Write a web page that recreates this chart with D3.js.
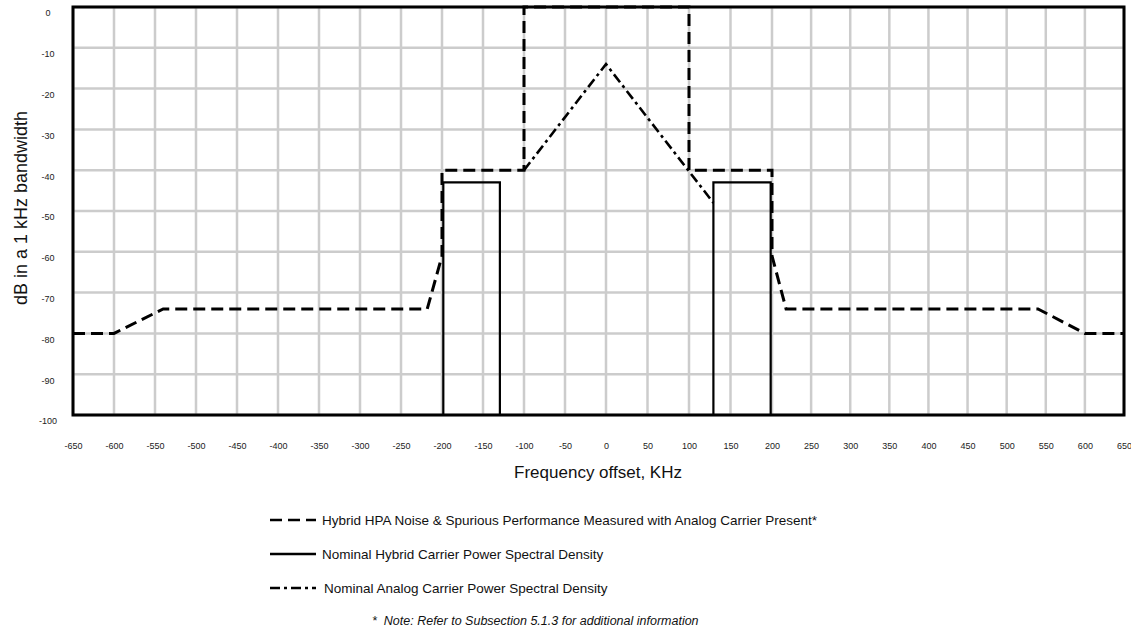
<!DOCTYPE html>
<html>
<head>
<meta charset="utf-8">
<script src="https://cdn.jsdelivr.net/npm/d3@7"></script>
<style>
  html, body { margin: 0; padding: 0; background: #fff; }
  svg { display: block; font-family: "Liberation Sans", Arial, sans-serif; }
</style>
</head>
<body>
<svg id="chart" width="1131" height="634"></svg>
<script>
// ---- Data ----
const xTicks = [-650,-600,-550,-500,-450,-400,-350,-300,-250,-200,-150,-100,-50,0,50,100,150,200,250,300,350,400,450,500,550,600,650];
const yTicks = [0,-10,-20,-30,-40,-50,-60,-70,-80,-90,-100];

// Hybrid HPA noise & spurious mask (dashed)
const maskFreq = [-650,-600,-540,-218,-200,-200,-100,-100,100,100,200,200,218,540,600,650];
const maskDb   = [-80,-80,-74,-74,-61,-40,-40,0,0,-40,-40,-61,-74,-74,-80,-80];

// Nominal hybrid carrier PSD (solid) - lower and upper sidebands
const lowerSbFreq = [-198.4,-198.4,-129.4,-129.4];
const lowerSbDb   = [-100,-43,-43,-100];
const upperSbFreq = [129.4,129.4,198.4,198.4];
const upperSbDb   = [-100,-43,-43,-100];

// Nominal analog carrier PSD (dash-dot)
const analogFreq = [-100,0,129.4];
const analogDb   = [-40,-14,-48];

const legendLabels = [
  "Hybrid HPA Noise & Spurious Performance Measured with Analog Carrier Present*",
  "Nominal Hybrid Carrier Power Spectral Density",
  "Nominal Analog Carrier Power Spectral Density"
];
const noteText = "*  Note: Refer to Subsection 5.1.3 for additional information";

// ---- Layout ----
const svg = d3.select("#chart");
const x = d3.scaleLinear().domain([-650, 0, 200, 650]).range([73, 606, 772, 1124]);
const y = d3.scaleLinear().domain([-100, 0]).range([415, 7]);

const zip = (a, b) => a.map((v, i) => [v, b[i]]);
const line = d3.line().x(d => x(d[0])).y(d => y(d[1]));
const fmt = d => String(d);

// gridlines
const grid = svg.append("g");
grid.selectAll(".vg").data(xTicks).join("line")
  .attr("x1", d => x(d)).attr("x2", d => x(d))
  .attr("y1", y(0)).attr("y2", y(-100))
  .attr("stroke", "#cccccc").attr("stroke-width", 2.5);
grid.selectAll(".hg").data(yTicks).join("line")
  .attr("x1", x(-650)).attr("x2", x(650))
  .attr("y1", d => y(d)).attr("y2", d => y(d))
  .attr("stroke", "#cccccc").attr("stroke-width", 2.5);

// axes (labels only)
const xAxis = d3.axisBottom(x).tickValues(xTicks).tickFormat(fmt).tickSize(0).tickPadding(0);
const gx = svg.append("g").attr("transform", `translate(0,${y(-100) + 28})`).call(xAxis);
gx.select(".domain").remove();
gx.selectAll("text").attr("font-size", 9).attr("fill", "#222").attr("font-family", "Liberation Sans, Arial, sans-serif");

const yAxis = d3.axisLeft(y).tickValues(yTicks).tickFormat(fmt).tickSize(0).tickPadding(0);
const gy = svg.append("g").attr("transform", `translate(48,6)`).call(yAxis);
gy.select(".domain").remove();
gy.selectAll("text").attr("font-size", 9).attr("fill", "#222").attr("text-anchor", "middle")
  .attr("font-family", "Liberation Sans, Arial, sans-serif");

// series
svg.append("path").datum(zip(lowerSbFreq, lowerSbDb)).attr("d", line)
  .attr("fill", "none").attr("stroke", "#000").attr("stroke-width", 2.2);
svg.append("path").datum(zip(upperSbFreq, upperSbDb)).attr("d", line)
  .attr("fill", "none").attr("stroke", "#000").attr("stroke-width", 2.2);
svg.append("path").datum(zip(analogFreq, analogDb)).attr("d", line)
  .attr("fill", "none").attr("stroke", "#000").attr("stroke-width", 2.6)
  .attr("stroke-dasharray", "10,4,3,4");
svg.append("path").datum(zip(maskFreq, maskDb)).attr("d", line)
  .attr("fill", "none").attr("stroke", "#000").attr("stroke-width", 3)
  .attr("stroke-dasharray", "12,6").attr("stroke-linejoin", "miter");

// frame
svg.append("rect")
  .attr("x", x(-650)).attr("y", y(0))
  .attr("width", x(650) - x(-650)).attr("height", y(-100) - y(0))
  .attr("fill", "none").attr("stroke", "#000").attr("stroke-width", 3);

// axis titles
svg.append("text").attr("x", 598).attr("y", 478).attr("text-anchor", "middle")
  .attr("font-size", 17).attr("fill", "#111").text("Frequency offset, KHz");
svg.append("text").attr("transform", "translate(27,208) rotate(-90)").attr("text-anchor", "middle")
  .attr("font-size", 18).attr("fill", "#111").text("dB in a 1 kHz bandwidth");

// legend
const legendDash = ["12,6", null, "10,4,3,4"];
const legend = svg.append("g");
legendLabels.forEach((lab, i) => {
  const cy = 520 + i * 34;
  legend.append("line").attr("x1", 270).attr("x2", 316).attr("y1", cy).attr("y2", cy)
    .attr("stroke", "#000").attr("stroke-width", 2.5)
    .attr("stroke-dasharray", legendDash[i]);
  legend.append("text").attr("x", i === 2 ? 324 : 322).attr("y", cy + 5)
    .attr("font-size", 13.5).attr("fill", "#111").text(lab);
});

svg.append("text").attr("x", 372).attr("y", 625)
  .attr("font-size", 12.5).attr("font-style", "italic").attr("fill", "#111")
  .style("white-space", "pre").text(noteText);
</script>
</body>
</html>
